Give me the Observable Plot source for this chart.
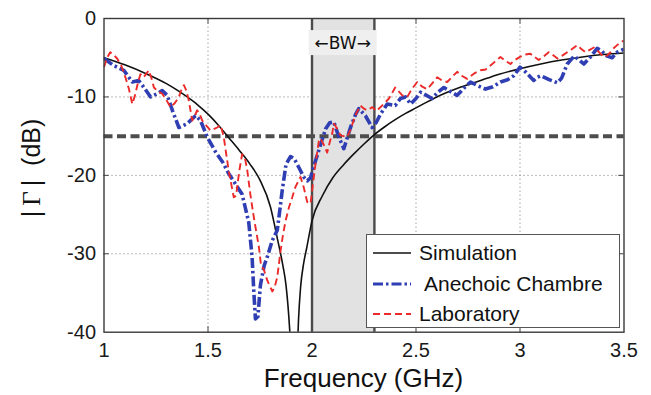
<!DOCTYPE html>
<html>
<head>
<meta charset="utf-8">
<script src="https://cdn.jsdelivr.net/npm/d3@7"></script>
<script src="https://cdn.jsdelivr.net/npm/@observablehq/plot@0.6"></script>
<style>
  html, body { margin: 0; padding: 0; background: #fff; }
  #chart { position: relative; width: 651px; height: 395px; font-family: "Liberation Sans", Arial, sans-serif; }
  #legend {
    position: absolute; left: 366px; top: 234px; width: 254px; height: 94px;
    background: #fff; border: 1.3px solid #555; box-sizing: border-box;
    font-size: 21px; color: #111;
  }
  .row { position: absolute; left: 6px; height: 30px; display: flex; align-items: center; }
  .row svg { width: 38px; height: 10px; margin-right: 8px; }
</style>
</head>
<body>
<div id="chart"></div>
<script>
// Reflection coefficient magnitude of the antenna, |Γ| in dB versus frequency in GHz
const xTicks = [1, 1.5, 2, 2.5, 3, 3.5];
const yTicks = [0, -10, -20, -30, -40];
const bandGHz = [2.0, 2.3];          // operating bandwidth
const thresholdDb = [-15];           // matching criterion
const seriesNames = ["Simulation", "Anechoic Chambre", "Laboratory"];

const simulation = [
  [1.0, -5.0], [1.1, -5.9], [1.2, -7.0], [1.3, -8.3], [1.35, -9.1], [1.4, -10.0],
  [1.45, -11.0], [1.5, -12.2], [1.55, -13.6], [1.6, -15.2], [1.65, -16.8], [1.7, -18.5],
  [1.75, -20.6], [1.8, -24.0], [1.833, -28.0], [1.86, -31.5], [1.875, -34.0], [1.893, -39.8],
  [1.905, -46], [1.915, -50], [1.925, -46], [1.935, -38.5], [1.945, -34.3], [1.96, -31.2],
  [1.975, -29.2], [2.0, -25.8], [2.05, -22.6], [2.1, -20.3], [2.15, -18.7], [2.2, -17.3],
  [2.25, -16.0], [2.3, -14.8], [2.35, -13.8], [2.4, -12.9], [2.45, -12.1], [2.5, -11.4],
  [2.6, -10.0], [2.7, -8.9], [2.8, -8.0], [2.9, -7.1], [3.0, -6.4], [3.1, -5.8],
  [3.2, -5.3], [3.3, -4.9], [3.4, -4.6], [3.5, -4.4]
];

const anechoic = [
  [1.0, -5.1], [1.047, -6.0], [1.095, -6.6], [1.136, -8.1], [1.167, -7.9], [1.195, -8.9],
  [1.224, -10.0], [1.255, -9.6], [1.28, -9.2], [1.304, -9.8], [1.33, -11.8], [1.36, -13.9],
  [1.40, -13.4], [1.44, -12.4], [1.464, -13.0], [1.496, -15.1], [1.536, -17.0], [1.57, -18.3],
  [1.60, -19.8], [1.632, -21.1], [1.664, -22.4], [1.696, -26.0], [1.712, -30.4], [1.72, -34.7],
  [1.728, -38.3], [1.74, -38.0], [1.752, -34.0], [1.77, -31.5], [1.785, -30.4], [1.809, -28.3],
  [1.833, -27.0], [1.845, -24.5], [1.857, -21.9], [1.875, -18.6], [1.897, -17.6], [1.915, -17.9],
  [1.937, -19.0], [1.96, -20.2], [1.977, -20.7], [1.993, -20.3], [2.009, -18.8], [2.033, -16.8],
  [2.065, -14.1], [2.085, -13.3], [2.105, -13.2], [2.129, -15.1], [2.153, -16.6], [2.185, -13.9],
  [2.21, -12.2], [2.225, -11.5], [2.257, -12.4], [2.289, -13.9], [2.31, -13.2], [2.329, -12.2],
  [2.362, -10.9], [2.40, -11.1], [2.425, -10.2], [2.45, -10.0], [2.474, -10.9], [2.50, -10.2],
  [2.522, -9.4], [2.55, -9.8], [2.578, -10.2], [2.605, -9.4], [2.634, -8.8], [2.665, -9.3],
  [2.698, -9.8], [2.73, -8.9], [2.762, -8.1], [2.80, -8.6], [2.834, -9.0], [2.87, -8.7],
  [2.906, -8.1], [2.94, -7.8], [2.97, -7.3], [3.0, -6.2], [3.03, -6.9], [3.066, -7.9],
  [3.083, -7.5], [3.1, -7.3], [3.14, -7.8], [3.18, -8.2], [3.20, -7.6], [3.227, -5.8],
  [3.26, -4.8], [3.285, -5.3], [3.307, -5.8], [3.339, -4.9], [3.371, -3.8], [3.395, -4.2],
  [3.419, -4.8], [3.443, -5.0], [3.467, -4.3], [3.5, -3.9]
];

const laboratory = [
  [1.0, -6.2], [1.015, -5.0], [1.03, -4.3], [1.045, -4.6], [1.063, -5.1], [1.083, -6.0],
  [1.103, -7.5], [1.12, -9.0], [1.136, -10.9], [1.151, -9.6], [1.163, -8.2], [1.175, -7.1],
  [1.19, -7.5], [1.205, -7.0], [1.215, -6.6], [1.228, -7.6], [1.24, -8.8], [1.26, -9.3],
  [1.28, -9.6], [1.30, -10.4], [1.32, -11.3], [1.34, -10.8], [1.36, -10.0], [1.373, -9.0],
  [1.384, -8.5], [1.396, -9.2], [1.408, -10.5], [1.424, -13.0], [1.436, -12.4], [1.448, -11.7],
  [1.46, -12.2], [1.472, -13.0], [1.49, -13.6], [1.512, -14.3], [1.544, -13.9], [1.56, -13.6],
  [1.575, -15.0], [1.60, -19.5], [1.624, -22.8], [1.635, -22.6], [1.65, -19.5], [1.664, -17.3],
  [1.676, -17.6], [1.688, -19.2], [1.704, -22.5], [1.72, -25.3], [1.745, -29.2], [1.755, -31.5],
  [1.768, -32.0], [1.785, -33.4], [1.809, -34.8], [1.82, -34.3], [1.833, -33.0], [1.849, -29.6],
  [1.861, -27.5], [1.873, -25.8], [1.89, -24.0], [1.905, -22.8], [1.92, -21.5], [1.937, -20.6],
  [1.945, -20.2], [1.96, -21.5], [1.977, -23.4], [1.993, -23.6], [2.005, -21.0], [2.017, -18.5],
  [2.033, -15.6], [2.04, -15.3], [2.055, -16.0], [2.073, -17.1], [2.085, -15.8], [2.097, -14.7],
  [2.105, -13.4], [2.12, -14.0], [2.137, -14.9], [2.169, -15.1], [2.185, -14.2], [2.2, -13.0],
  [2.215, -12.0], [2.233, -11.1], [2.25, -11.5], [2.265, -11.7], [2.29, -11.3], [2.31, -11.8],
  [2.345, -10.9], [2.37, -10.2], [2.40, -8.8], [2.434, -9.8], [2.458, -10.0], [2.48, -9.0],
  [2.506, -8.1], [2.53, -8.7], [2.554, -9.0], [2.58, -8.2], [2.602, -7.5], [2.625, -7.9],
  [2.65, -8.1], [2.675, -7.4], [2.698, -6.8], [2.72, -7.3], [2.746, -7.7], [2.78, -7.0],
  [2.81, -6.6], [2.835, -6.5], [2.858, -6.0], [2.88, -5.5], [2.906, -4.9], [2.93, -5.4],
  [2.954, -5.8], [2.975, -5.3], [3.0, -4.9], [3.025, -4.6], [3.05, -4.5], [3.07, -4.9],
  [3.09, -5.3], [3.115, -4.8], [3.138, -4.3], [3.16, -4.7], [3.18, -5.1], [3.205, -4.7],
  [3.227, -4.3], [3.25, -3.9], [3.275, -3.4], [3.295, -3.9], [3.315, -4.3], [3.335, -4.0],
  [3.355, -3.7], [3.38, -4.3], [3.403, -4.9], [3.42, -4.7], [3.435, -4.3], [3.45, -3.8],
  [3.467, -3.4], [3.48, -3.1], [3.5, -2.8]
];

const styles = {
  sim: {stroke: "#111", strokeWidth: 1.6, dash: null},
  anechoic: {stroke: "#2f3fb3", strokeWidth: 3.6, dash: "10,3,2.5,3"},
  laboratory: {stroke: "#ec2a2a", strokeWidth: 1.9, dash: "7,4"}
};

const xDomain = [xTicks[0], xTicks[xTicks.length - 1]];
const yDomain = [yTicks[yTicks.length - 1], yTicks[0]];
const innerX = xTicks.slice(1, -1);
const innerY = yTicks.slice(1, -1);
const tickLenX = 0.025, tickLenY = 0.7;

const plot = Plot.plot({
  width: 651,
  height: 395,
  marginLeft: 103.5,
  marginRight: 27.5,
  marginTop: 18,
  marginBottom: 63.3,
  style: {fontFamily: "Liberation Sans, Arial, sans-serif", fontSize: "20px", color: "#1a1a1a", background: "#fff"},
  x: {domain: xDomain, ticks: xTicks, tickFormat: d => String(d), tickSize: 0, tickPadding: 11, label: null},
  y: {domain: yDomain, ticks: yTicks, tickFormat: d => String(d), tickSize: 0, tickPadding: 8, label: null},
  marks: [
    // dotted grid
    Plot.ruleX(innerX, {x: d => d, y1: yDomain[0], y2: yDomain[1], stroke: "#777", strokeWidth: 1, strokeDasharray: "1,3"}),
    Plot.ruleY(innerY, {y: d => d, x1: xDomain[0], x2: xDomain[1], stroke: "#777", strokeWidth: 1, strokeDasharray: "1,3"}),
    // inward ticks on all four sides
    Plot.ruleX(innerX, {x: d => d, y1: yDomain[0], y2: yDomain[0] + tickLenY, stroke: "#444"}),
    Plot.ruleX(innerX, {x: d => d, y1: yDomain[1], y2: yDomain[1] - tickLenY, stroke: "#444"}),
    Plot.ruleY(innerY, {y: d => d, x1: xDomain[0], x2: xDomain[0] + tickLenX, stroke: "#444"}),
    Plot.ruleY(innerY, {y: d => d, x1: xDomain[1], x2: xDomain[1] - tickLenX, stroke: "#444"}),
    // bandwidth region
    Plot.rect([bandGHz], {x1: d => d[0], x2: d => d[1], y1: yDomain[0], y2: yDomain[1], fill: "#e2e2e2"}),
    Plot.ruleX(bandGHz, {x: d => d, y1: yDomain[0], y2: yDomain[1], stroke: "#4a4a4a", strokeWidth: 2.4}),
    // -15 dB criterion
    Plot.ruleY(thresholdDb, {y: d => d, x1: xDomain[0], x2: xDomain[1], stroke: "#4d4d4d", strokeWidth: 4, strokeDasharray: "9,4.5"}),
    // curves
    Plot.line(simulation, {x: d => d[0], y: d => d[1], stroke: styles.sim.stroke, strokeWidth: styles.sim.strokeWidth, curve: "monotone-x", clip: true}),
    Plot.line(anechoic, {x: d => d[0], y: d => d[1], stroke: styles.anechoic.stroke, strokeWidth: styles.anechoic.strokeWidth, strokeDasharray: styles.anechoic.dash, strokeLinecap: "butt", strokeLinejoin: "round", clip: true}),
    Plot.line(laboratory, {x: d => d[0], y: d => d[1], stroke: styles.laboratory.stroke, strokeWidth: styles.laboratory.strokeWidth, strokeDasharray: styles.laboratory.dash, strokeLinecap: "butt", strokeLinejoin: "round", clip: true}),
    Plot.frame({stroke: "#3a3a3a", strokeWidth: 1.4})
  ]
});

const chart = document.getElementById("chart");
chart.appendChild(plot);

const sx = plot.scale("x"), sy = plot.scale("y");
const svg = d3.select(plot);

// bandwidth label
const bwCx = sx.apply((bandGHz[0] + bandGHz[1]) / 2);
const bwY = sy.apply(-3.2);
const bw = svg.append("g");
bw.append("rect")
  .attr("x", bwCx - 34).attr("y", bwY - 13).attr("width", 68).attr("height", 25)
  .attr("fill", "#efefef");
bw.append("text")
  .attr("x", bwCx).attr("y", bwY).attr("dy", "0.36em")
  .attr("text-anchor", "middle").attr("font-size", 17).attr("fill", "#111")
  .attr("font-family", "DejaVu Sans, sans-serif")
  .text("\u2190BW\u2192");

// axis titles
const xMid = (sx.range[0] + sx.range[1]) / 2;
svg.append("text")
  .attr("x", xMid).attr("y", 387).attr("text-anchor", "middle")
  .attr("font-size", 26).attr("fill", "#111")
  .text("Frequency (GHz)");
const yt = svg.append("text")
  .attr("transform", "translate(40,168) rotate(-90)")
  .attr("text-anchor", "middle").attr("font-size", 25).attr("fill", "#111");
yt.append("tspan").text("|\u2009");
yt.append("tspan").attr("font-family", "Liberation Serif, serif").text("\u0393");
yt.append("tspan").text("\u2009|\u00a0\u00a0(dB)");

// legend
const legend = document.createElement("div");
legend.id = "legend";
const keys = [styles.sim, styles.anechoic, styles.laboratory];
seriesNames.forEach((name, i) => {
  const s = keys[i];
  const row = document.createElement("div");
  row.className = "row";
  row.style.top = (3 + i * 30.5) + "px";
  row.innerHTML = `<svg viewBox="0 0 38 10"><line x1="0" y1="5" x2="38" y2="5" stroke="${s.stroke}" stroke-width="${Math.min(s.strokeWidth, 3)}" ${s.dash ? `stroke-dasharray="${s.dash}"` : ""}/></svg><span style="margin-left:${i === 1 ? 5 : 0}px">${name}</span>`;
  legend.appendChild(row);
});
chart.appendChild(legend);
</script>
</body>
</html>
